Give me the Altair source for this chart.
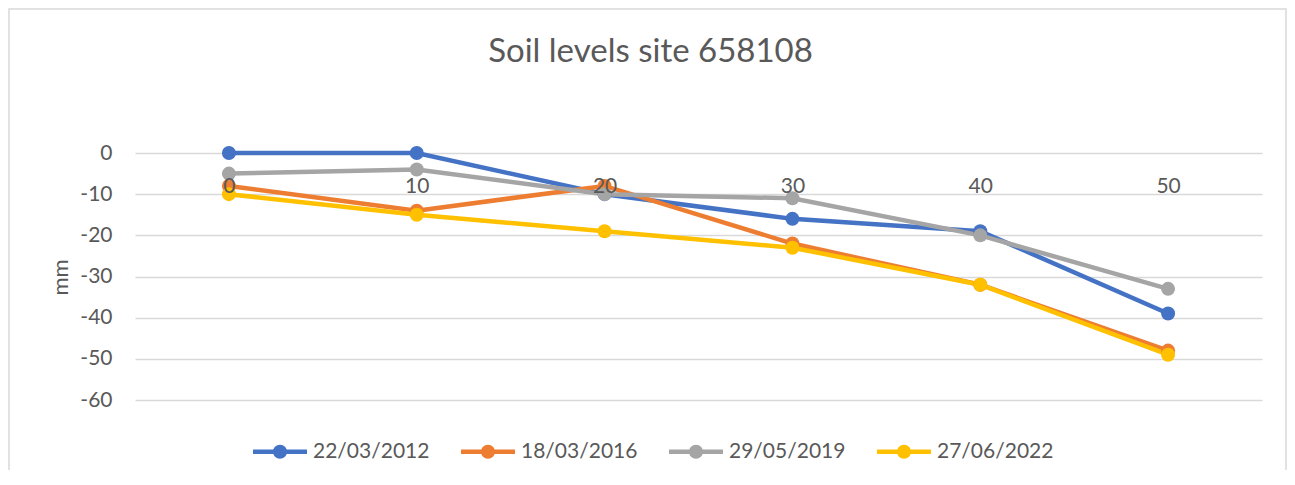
import altair as alt
import pandas as pd

# ---- data ----
depths = [0, 10, 20, 30, 40, 50]
series_names = ["22/03/2012", "18/03/2016", "29/05/2019", "27/06/2022"]
s_2012 = [0, 0, -10, -16, -19, -39]
s_2016 = [-8, -14, -8, -22, -32, -48]
s_2019 = [-5, -4, -10, -11, -20, -33]
s_2022 = [-10, -15, -19, -23, -32, -49]
series_colors = ["#4472C4", "#ED7D31", "#A5A5A5", "#FFC000"]
y_ticks = [0, -10, -20, -30, -40, -50, -60]
title_text = "Soil levels site 658108"
y_title = "mm"

rows = []
for name, vals in zip(series_names, [s_2012, s_2016, s_2019, s_2022]):
    for d, v in zip(depths, vals):
        rows.append({"depth": d, "value": v, "series": name})
df = pd.DataFrame(rows)

TXT = "#595959"
GRID = "#d9d9d9"
W, H = 1127, 247

legend_path = ("M-2,-0.1667H2V0.1667H-2Z "
               "M-0.5185,0A0.5185,0.5185 0 1,1 0.5185,0A0.5185,0.5185 0 1,1 -0.5185,0Z")

color = alt.Color(
    "series:N",
    scale=alt.Scale(domain=series_names, range=series_colors),
    legend=alt.Legend(
        title=None,
        orient="none",
        legendX=131.5,
        legendY=285,
        direction="horizontal",
        columns=4,
        columnPadding=31,
        padding=0,
        symbolType=legend_path,
        symbolSize=729,
        symbolStrokeWidth=0,
        symbolOpacity=1,
        labelOffset=19.5,
        labelFont="Lato",
        labelFontSize=21,
        labelColor=TXT,
        labelLimit=300,
    ),
)

x = alt.X(
    "depth:O",
    sort=depths,
    axis=alt.Axis(
        title=None,
        orient="bottom",
        offset=-H,
        domain=False,
        ticks=False,
        tickSize=0,
        grid=False,
        labelAngle=0,
        labelPadding=39,
        labelBaseline="alphabetic",
        labelFont="Lato",
        labelFontSize=21,
        labelColor=TXT,
        labelOverlap=False,
        zindex=1,
    ),
)

y = alt.Y(
    "value:Q",
    scale=alt.Scale(domain=[-60, 0], nice=False, zero=False),
    axis=alt.Axis(
        title=y_title,
        values=y_ticks,
        labelExpr="'' + datum.value",
        domain=False,
        ticks=False,
        tickSize=0,
        grid=True,
        gridColor=GRID,
        gridWidth=1.5,
        labelPadding=23,
        labelFont="Lato",
        labelFontSize=21,
        labelColor=TXT,
        titleFont="Lato",
        titleFontSize=22,
        titleFontWeight="normal",
        titleColor=TXT,
        titleX=-68,
        titleY=124,
        titleAlign="center",
        titleBaseline="alphabetic",
        titleAngle=270,
    ),
)

base = alt.Chart(df).encode(x=x, y=y, color=color)
lines = base.mark_line(strokeWidth=4.5)
points = base.mark_point(filled=True, size=196, opacity=1, strokeWidth=0)

frame = alt.Chart(pd.DataFrame({"f": [0]})).mark_rect(
    fill=None, stroke=GRID, strokeWidth=1.5
).encode(
    x=alt.value(-126),
    x2=alt.value(W + 24),
    y=alt.value(-144),
    y2=alt.value(H + 120),
)

chart = alt.layer(frame, lines, points).properties(
    width=W,
    height=H,
    autosize=alt.AutoSizeParams(type="none"),
    padding={"left": 127, "top": 145, "right": 25, "bottom": 70},
    background="white",
    title=alt.TitleParams(
        text=title_text,
        font="Lato",
        fontSize=33,
        fontWeight="normal",
        color=TXT,
        anchor="middle",
        frame="group",
        dx=-48,
        baseline="alphabetic",
        offset=0,
        dy=87,
    ),
).configure_view(stroke=None)

chart.save("out.html", embed_options={"renderer": "svg", "actions": False})
